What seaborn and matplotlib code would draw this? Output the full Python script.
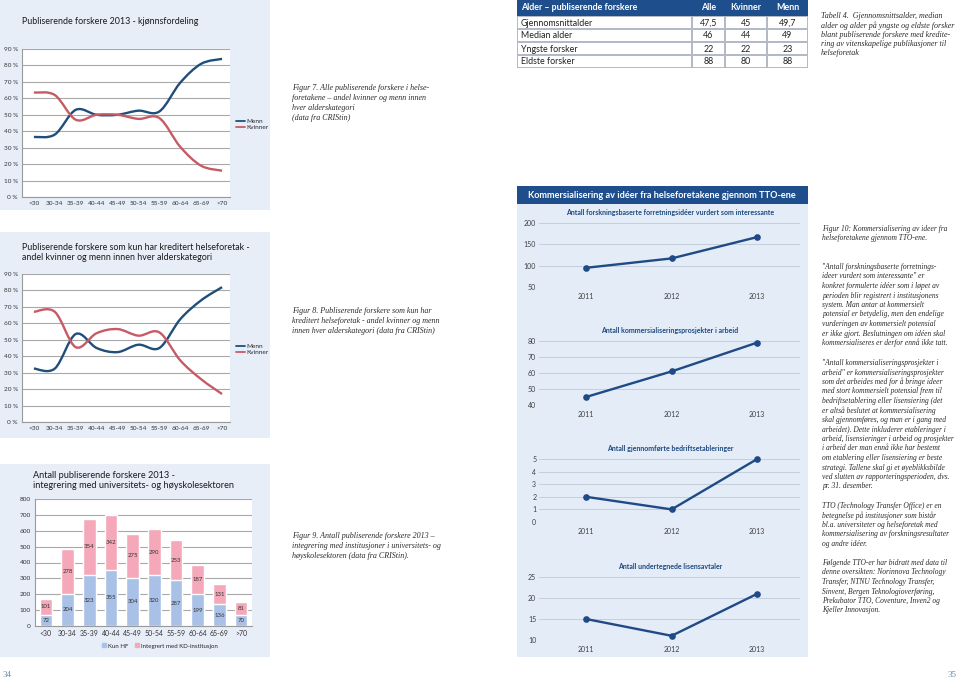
import matplotlib
matplotlib.use("Agg")
import matplotlib.pyplot as plt
from matplotlib.patches import Rectangle, PathPatch, Patch
from matplotlib.path import Path
from matplotlib.lines import Line2D
import seaborn as sns
import pandas as pd
import numpy as np

# --- data ---
ages = ["<30", "30-34", "35-39", "40-44", "45-49", "50-54", "55-59", "60-64", "65-69", ">70"]
menn_alle = [36.5, 38, 53, 50, 50, 52.5, 52, 69.5, 81, 84]
kvinner_alle = [63.5, 62, 47, 50, 50, 47.5, 48, 30.5, 19, 16]
menn_hf = [32.5, 32.5, 53.5, 45, 42.5, 47, 45, 62.5, 74, 82]
kvinner_hf = [67, 67, 45.5, 54, 56.5, 52.5, 54.5, 37.5, 26, 17]
kun_hf = [72, 204, 323, 355, 304, 320, 287, 199, 136, 70]
integrert_kd = [101, 278, 354, 342, 275, 290, 253, 187, 131, 81]

tabell_kolonner = ["Alder – publiserende forskere", "Alle", "Kvinner", "Menn"]
tabell_rader = ["Gjennomsnittalder", "Median alder", "Yngste forsker", "Eldste forsker"]
tabell_alle = ["47,5", "46", "22", "88"]
tabell_kvinner = ["45", "44", "22", "80"]
tabell_menn = ["49,7", "49", "23", "88"]

aar = ["2011", "2012", "2013"]
tto_ideer = [95, 117, 167]
tto_prosjekter = [45, 61, 79]
tto_etableringer = [2, 1, 5]
tto_lisenser = [15, 11, 21]

W, H = 960, 680
sns.set_theme(style="white")
plt.rcParams["font.family"] = ["Lato", "DejaVu Sans"]

BLUE_M = "#1f4e7a"
RED_K = "#c65b66"
PANEL = "#e7eef8"
NAVY = "#1f4e8c"
SERIF = ["Liberation Serif", "DejaVu Serif"]

fig = plt.figure(figsize=(W / 100, H / 100), dpi=100)
fig.patch.set_facecolor("white")


def px(x0, y0, x1, y1):
    return [x0 / W, 1 - y1 / H, (x1 - x0) / W, (y1 - y0) / H]


def panel(x0, y0, x1, y1, color, z=-1):
    fig.patches.append(Rectangle((x0 / W, 1 - y1 / H), (x1 - x0) / W, (y1 - y0) / H,
                                 transform=fig.transFigure, facecolor=color,
                                 edgecolor="none", zorder=z))


def ftext(x, y, s, **kw):
    kw.setdefault("va", "center")
    fig.text(x / W, 1 - y / H, s, **kw)


def smooth_path(xs, ys):
    # Excel-style smoothed line as cubic bezier segments
    pts = np.column_stack([xs, ys]).astype(float)
    p = np.vstack([pts[0], pts, pts[-1]])
    verts = [tuple(pts[0])]
    codes = [Path.MOVETO]
    for i in range(1, len(p) - 2):
        c1 = p[i] + (p[i + 1] - p[i - 1]) / 6
        c2 = p[i + 1] - (p[i + 2] - p[i]) / 6
        verts += [tuple(c1), tuple(c2), tuple(p[i + 1])]
        codes += [Path.CURVE4] * 3
    return Path(verts, codes)


def caption(x, y0, lines, dy=10, size=5.8):
    for i, line in enumerate(lines):
        ftext(x, y0 + i * dy, line, family=SERIF, style="italic", fontsize=size,
              color="#2b2b2b", ha="left")


# --- background panels ---
panel(0, 0, 270, 210, PANEL)
panel(0, 232, 270, 438, PANEL)
panel(0, 464, 270, 657, PANEL)
panel(517, 186, 808, 657, "#e3ecf7")


def gender_chart(box, menn, kvinner, leg_y):
    ax = fig.add_axes(px(*box))
    ax.set_facecolor("white")
    xs = np.arange(len(ages))
    ax.add_patch(PathPatch(smooth_path(xs, menn), facecolor="none", edgecolor=BLUE_M, lw=1.7, zorder=3))
    ax.add_patch(PathPatch(smooth_path(xs, kvinner), facecolor="none", edgecolor=RED_K, lw=1.7, zorder=3))
    ax.set_xlim(-0.57, 9.38)
    ax.set_ylim(0, 90)
    ax.set_yticks(range(0, 91, 10))
    ax.set_yticklabels([f"{v} %" for v in range(0, 91, 10)])
    ax.set_xticks(xs)
    ax.set_xticklabels(ages)
    ax.grid(axis="y", color="#a8a8a8", lw=0.8)
    ax.set_axisbelow(True)
    for s in ["top", "right"]:
        ax.spines[s].set_visible(False)
    for s in ["left", "bottom"]:
        ax.spines[s].set_color("#9a9a9a")
        ax.spines[s].set_linewidth(0.8)
    ax.tick_params(labelsize=4.6, colors="#333333", length=0, pad=3)
    handles = [Line2D([0], [0], color=BLUE_M, lw=1.3), Line2D([0], [0], color=RED_K, lw=1.3)]
    ax.legend(handles, ["Menn", "Kvinner"], loc="center left",
              bbox_to_anchor=(233 / W, 1 - leg_y / H), bbox_transform=fig.transFigure,
              frameon=False, fontsize=4.6, handlelength=1.3, handletextpad=0.3,
              labelspacing=0.1, borderpad=0)
    return ax


gender_chart((22, 49, 230, 197), menn_alle, kvinner_alle, 124.5)
ftext(22, 21, "Publiserende forskere 2013 - kjønnsfordeling", fontsize=6.4, color="#1a1a1a")

gender_chart((22, 274, 230, 422), menn_hf, kvinner_hf, 349.5)
ftext(22, 247, "Publiserende forskere som kun har kreditert helseforetak -", fontsize=6.4, color="#1a1a1a")
ftext(22, 258, "andel kvinner og menn innen hver alderskategori", fontsize=6.4, color="#1a1a1a")

# --- stacked bar chart ---
axb = fig.add_axes(px(35, 499, 252, 626))
axb.set_facecolor("white")
bars = pd.DataFrame({"alder": ages, "kun": kun_hf, "kd": integrert_kd})
bars["total"] = bars["kun"] + bars["kd"]
sns.barplot(data=bars, x="alder", y="total", color="#f5a8b9", width=0.58, saturation=1, ax=axb, zorder=2)
sns.barplot(data=bars, x="alder", y="kun", color="#a9c0e7", width=0.58, saturation=1, ax=axb, zorder=2)
for i, row in bars.iterrows():
    axb.text(i, row["kun"] / 2, str(row["kun"]), ha="center", va="center", fontsize=4.3, color="#333333", zorder=4)
    axb.text(i, row["kun"] + row["kd"] / 2, str(row["kd"]), ha="center", va="center", fontsize=4.3, color="#333333", zorder=4)
axb.set_xlim(-0.5, 9.5)
axb.set_ylim(0, 800)
axb.set_yticks(range(0, 801, 100))
axb.set_xlabel("")
axb.set_ylabel("")
axb.grid(axis="y", color="#a8a8a8", lw=0.8)
axb.set_axisbelow(True)
for s in ["top", "right"]:
    axb.spines[s].set_visible(False)
for s in ["left", "bottom"]:
    axb.spines[s].set_color("#9a9a9a")
    axb.spines[s].set_linewidth(0.8)
axb.tick_params(labelsize=4.6, colors="#333333", length=0, pad=3)
axb.tick_params(axis="x", labelsize=5)
axb.legend([Patch(color="#a9c0e7"), Patch(color="#f5a8b9")], ["Kun HF", "Integrert med KD-institusjon"],
           loc="center", bbox_to_anchor=(160 / W, 1 - 646 / H), bbox_transform=fig.transFigure,
           ncol=2, frameon=False, fontsize=4.4, handlelength=0.6, handleheight=0.6,
           handletextpad=0.3, columnspacing=1.2, borderpad=0)
ftext(33, 475, "Antall publiserende forskere 2013 -", fontsize=6.6, color="#1a1a1a")
ftext(33, 486, "integrering med universitets- og høyskolesektoren", fontsize=6.6, color="#1a1a1a")

# --- captions in the middle column ---
caption(292, 88, ["Figur 7. Alle publiserende forskere i helse-",
                  "foretakene – andel kvinner og menn innen",
                  "hver alderskategori",
                  "(data fra CRIStin)"])
caption(292, 311, ["Figur 8. Publiserende forskere som kun har",
                   "kreditert helseforetak - andel kvinner og menn",
                   "innen hver alderskategori (data fra CRIStin)"])
caption(292, 536, ["Figur 9. Antall publiserende forskere 2013 –",
                   "integrering med institusjoner i universitets- og",
                   "høyskolesektoren (data fra CRIStin)."])

# --- table ---
col_edges = [517, 692, 725, 767, 808]
row_edges = [0, 16, 29, 42, 55, 68]
panel(517, 0, 808, 68, "#b3bac6", z=1)
for j in range(4):
    x0, x1 = col_edges[j], col_edges[j + 1]
    panel(x0, 0, x1, 16, NAVY, z=2)
    ha = "left" if j == 0 else "center"
    tx = x0 + 4 if j == 0 else (x0 + x1) / 2
    ftext(tx, 8, tabell_kolonner[j], fontsize=6.4, color="white", weight="bold", ha=ha, zorder=3)
cols = [tabell_rader, tabell_alle, tabell_kvinner, tabell_menn]
for i in range(4):
    y0, y1 = row_edges[i + 1], row_edges[i + 2]
    for j in range(4):
        x0, x1 = col_edges[j], col_edges[j + 1]
        panel(x0 + 0.8, y0 + 0.9, x1 - 0.8, y1 - 0.6, "white", z=2)
        ha = "left" if j == 0 else "center"
        tx = x0 + 4 if j == 0 else (x0 + x1) / 2
        ftext(tx, (y0 + y1) / 2 + 0.5, cols[j][i], fontsize=6.4, color="#222222", ha=ha, zorder=3)

caption(821, 16, ["Tabell 4.  Gjennomsnittsalder, median",
                  "alder og alder på yngste og eldste forsker",
                  "blant publiserende forskere med kredite-",
                  "ring av vitenskapelige publikasjoner til",
                  "helseforetak"], dy=9.3)

# --- TTO panel ---
panel(517, 186, 808, 204, NAVY, z=1)
ftext(662, 195, "Kommersialisering av idéer fra helseforetakene gjennom TTO-ene",
      fontsize=6.6, color="white", weight="bold", ha="center", zorder=3)

tto = [
    ("Antall forskningsbaserte forretningsidéer vurdert som interessante", tto_ideer, 223, 287, (50, 200), range(50, 201, 50), 213),
    ("Antall kommersialiseringsprosjekter i arbeid", tto_prosjekter, 341, 405, (40, 80), range(40, 81, 10), 330),
    ("Antall gjennomførte bedriftsetableringer", tto_etableringer, 459, 522, (0, 5), range(0, 6), 448),
    ("Antall undertegnede lisensavtaler", tto_lisenser, 577, 640, (10, 25), range(10, 26, 5), 566),
]
for title, vals, ytop, ybot, ylim, ticks, ty in tto:
    ax = fig.add_axes(px(539, ytop, 800, ybot))
    ax.patch.set_alpha(0)
    df = pd.DataFrame({"aar": aar, "verdi": vals})
    sns.lineplot(data=df, x="aar", y="verdi", sort=False, color="#1f4a85", lw=1.7,
                 marker="o", markersize=4.8, markeredgewidth=0, ax=ax, zorder=3)
    ax.set_xlim(-0.55, 2.5)
    ax.set_ylim(*ylim)
    ax.set_yticks(list(ticks))
    ax.set_xlabel("")
    ax.set_ylabel("")
    ax.grid(axis="y", color="#c5cedb", lw=0.7)
    ax.set_axisbelow(True)
    for s in ax.spines.values():
        s.set_visible(False)
    ax.tick_params(labelsize=5, colors="#404040", length=0, pad=2)
    ax.tick_params(axis="x", pad=4)
    for line in ax.lines:
        line.set_clip_on(False)
    ftext(670, ty, title, fontsize=5, color="#1f4a80", weight="bold", ha="center")

# --- right column text ---
RS = 5.45
caption(822, 229, ["Figur 10: Kommersialisering av ideer fra",
                   "helseforetakene gjennom TTO-ene."], dy=9.5, size=RS)
caption(822, 267, ["\"Antall forskningsbaserte forretnings-",
                   "ideer vurdert som interessante\" er",
                   "konkret formulerte idéer som i løpet av",
                   "perioden blir registrert i institusjonens",
                   "system. Man antar at kommersielt",
                   "potensial er betydelig, men den endelige",
                   "vurderingen av kommersielt potensial",
                   "er ikke gjort. Beslutningen om idéen skal",
                   "kommersialiseres er derfor ennå ikke tatt."], dy=9.5, size=RS)
caption(822, 363, ["\"Antall kommersialiseringsprosjekter i",
                   "arbeid\" er kommersialiseringsprosjekter",
                   "som det arbeides med for å bringe ideer",
                   "med stort kommersielt potensial frem til",
                   "bedriftsetablering eller lisensiering (det",
                   "er altså beslutet at kommersialisering",
                   "skal gjennomføres, og man er i gang med",
                   "arbeidet). Dette inkluderer etableringer i",
                   "arbeid, lisensieringer i arbeid og prosjekter",
                   "i arbeid der man ennå ikke har bestemt",
                   "om etablering eller lisensiering er beste",
                   "strategi. Tallene skal gi et øyeblikksbilde",
                   "ved slutten av rapporteringsperioden, dvs.",
                   "pr. 31. desember."], dy=9.5, size=RS)
caption(822, 506, ["TTO (Technology Transfer Office) er en",
                   "betegnelse på institusjoner som bistår",
                   "bl.a. universiteter og helseforetak med",
                   "kommersialisering av forskningsresultater",
                   "og andre idéer."], dy=9.5, size=RS)
caption(822, 563, ["Følgende TTO-er har bidratt med data til",
                   "denne oversikten: Norinnova Technology",
                   "Transfer, NTNU Technology Transfer,",
                   "Sinvent, Bergen Teknologioverføring,",
                   "Prekubator TTO, Coventure, Inven2 og",
                   "Kjeller Innovasjon."], dy=9.5, size=RS)

# page numbers
ftext(3, 675, "34", family=SERIF, fontsize=6.5, color="#6f86b0", ha="left")
ftext(957, 675, "35", family=SERIF, fontsize=6.5, color="#6f86b0", ha="right")

fig.savefig("out.png", dpi=100)
